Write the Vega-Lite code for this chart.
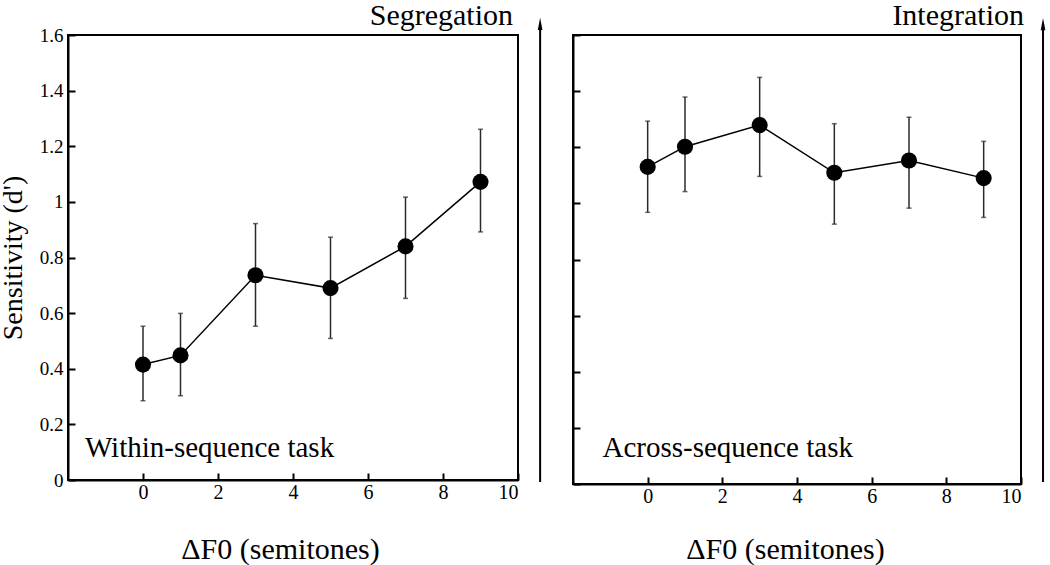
{
  "$schema": "https://vega.github.io/schema/vega-lite/v6.json",
  "background": "white",
  "autosize": {"type": "none"},
  "padding": {"left": 68, "top": 35, "right": 982, "bottom": 530},
  "config": {
    "font": "Liberation Serif",
    "view": {"stroke": "black", "strokeWidth": 2},
    "axis": {
      "grid": false,
      "domainColor": "black", "domainWidth": 2,
      "tickColor": "black", "tickWidth": 2, "tickSize": -7,
      "labelPadding": 12, "labelFont": "Liberation Serif", "labelFontSize": 19, "labelColor": "black",
      "titleFont": "Liberation Serif", "titleFontSize": 30, "titleFontWeight": "normal", "titleColor": "black"
    }
  },
  "datasets": {
    "within": [
      {"dF0": 0, "d": 0.415, "lo": 0.285, "hi": 0.553},
      {"dF0": 1, "d": 0.448, "lo": 0.303, "hi": 0.599},
      {"dF0": 3, "d": 0.736, "lo": 0.553, "hi": 0.922},
      {"dF0": 5, "d": 0.690, "lo": 0.509, "hi": 0.873},
      {"dF0": 7, "d": 0.840, "lo": 0.653, "hi": 1.017},
      {"dF0": 9, "d": 1.072, "lo": 0.892, "hi": 1.261}
    ],
    "across": [
      {"dF0": 0, "d": 1.130, "lo": 0.968, "hi": 1.293},
      {"dF0": 1, "d": 1.202, "lo": 1.042, "hi": 1.379},
      {"dF0": 3, "d": 1.279, "lo": 1.096, "hi": 1.449},
      {"dF0": 5, "d": 1.109, "lo": 0.926, "hi": 1.284},
      {"dF0": 7, "d": 1.153, "lo": 0.983, "hi": 1.307},
      {"dF0": 9, "d": 1.090, "lo": 0.950, "hi": 1.221}
    ]
  },
  "bounds": "flush",
  "spacing": 55,
  "hconcat": [
    {
      "width": 450, "height": 445,
      "data": {"name": "within"},
      "encoding": {
        "x": {"field": "dF0", "type": "quantitative",
          "scale": {"domain": [-2, 10], "nice": false, "zero": false},
          "axis": {"values": [0, 2, 4, 6, 8, 10], "labelFontSize": 20, "labelPadding": 9, "title": "ΔF0 (semitones)", "titlePadding": 32, "titleX": 212, "titleAlign": "center"}},
        "y": {"field": "d", "type": "quantitative",
          "scale": {"domain": [0, 1.6], "nice": false},
          "axis": {"values": [0, 0.2, 0.4, 0.6, 0.8, 1, 1.2, 1.4, 1.6], "format": "~g", "title": "Sensitivity (d')", "titleFontSize": 28, "titlePadding": 12}}
      },
      "layer": [
        {"mark": {"type": "errorbar", "ticks": true, "thickness": 1.5, "color": "#2a2a2a"},
         "encoding": {"y": {"field": "lo", "type": "quantitative"}, "y2": {"field": "hi"}}},
        {"mark": {"type": "line", "color": "black", "strokeWidth": 1.5}},
        {"mark": {"type": "point", "filled": true, "color": "black", "opacity": 1, "size": 260, "shape": "circle"}},
        {"transform": [{"filter": "datum.dF0 == 0"}],
         "mark": {"type": "text", "text": "Within-sequence task", "align": "left", "baseline": "middle", "fontSize": 29, "font": "Liberation Serif", "color": "black"},
         "encoding": {"x": {"datum": -1.55, "type": "quantitative"}, "y": {"datum": 0.115, "type": "quantitative"}}},
        {"transform": [{"filter": "datum.dF0 == 0"}],
         "mark": {"type": "text", "text": "Segregation", "align": "right", "baseline": "alphabetic", "dx": -5, "fontSize": 30, "font": "Liberation Serif", "color": "black"},
         "encoding": {"x": {"datum": 10, "type": "quantitative"}, "y": {"datum": 1.637, "type": "quantitative"}}},
        {"transform": [{"filter": "datum.dF0 == 0"}],
         "mark": {"type": "rule", "color": "black", "strokeWidth": 2},
         "encoding": {"x": {"datum": 10.59, "type": "quantitative"}, "y": {"datum": -0.007, "type": "quantitative"}, "y2": {"datum": 1.62}}},
        {"transform": [{"filter": "datum.dF0 == 0"}],
         "mark": {"type": "point", "filled": true, "color": "black", "opacity": 1, "size": 150, "shape": "M0,-1L0.38,1L-0.38,1Z"},
         "encoding": {"x": {"datum": 10.59, "type": "quantitative"}, "y": {"datum": 1.64, "type": "quantitative"}}}
      ]
    },
    {
      "width": 448, "height": 449,
      "data": {"name": "across"},
      "encoding": {
        "x": {"field": "dF0", "type": "quantitative",
          "scale": {"domain": [-2, 10], "nice": false, "zero": false},
          "axis": {"values": [0, 2, 4, 6, 8, 10], "labelFontSize": 20, "labelPadding": 9, "title": "ΔF0 (semitones)", "titlePadding": 28, "titleX": 212, "titleAlign": "center"}},
        "y": {"field": "d", "type": "quantitative",
          "scale": {"domain": [0, 1.6], "nice": false},
          "axis": {"values": [0, 0.2, 0.4, 0.6, 0.8, 1, 1.2, 1.4, 1.6], "labels": false, "title": null}}
      },
      "layer": [
        {"mark": {"type": "errorbar", "ticks": true, "thickness": 1.5, "color": "#2a2a2a"},
         "encoding": {"y": {"field": "lo", "type": "quantitative"}, "y2": {"field": "hi"}}},
        {"mark": {"type": "line", "color": "black", "strokeWidth": 1.5}},
        {"mark": {"type": "point", "filled": true, "color": "black", "opacity": 1, "size": 260, "shape": "circle"}},
        {"transform": [{"filter": "datum.dF0 == 0"}],
         "mark": {"type": "text", "text": "Across-sequence task", "align": "left", "baseline": "middle", "fontSize": 29, "font": "Liberation Serif", "color": "black"},
         "encoding": {"x": {"datum": -1.21, "type": "quantitative"}, "y": {"datum": 0.13, "type": "quantitative"}}},
        {"transform": [{"filter": "datum.dF0 == 0"}],
         "mark": {"type": "text", "text": "Integration", "align": "right", "baseline": "alphabetic", "dx": 3, "fontSize": 30, "font": "Liberation Serif", "color": "black"},
         "encoding": {"x": {"datum": 10, "type": "quantitative"}, "y": {"datum": 1.636, "type": "quantitative"}}},
        {"transform": [{"filter": "datum.dF0 == 0"}],
         "mark": {"type": "rule", "color": "black", "strokeWidth": 2},
         "encoding": {"x": {"datum": 10.59, "type": "quantitative"}, "y": {"datum": 0.007, "type": "quantitative"}, "y2": {"datum": 1.62}}},
        {"transform": [{"filter": "datum.dF0 == 0"}],
         "mark": {"type": "point", "filled": true, "color": "black", "opacity": 1, "size": 150, "shape": "M0,-1L0.38,1L-0.38,1Z"},
         "encoding": {"x": {"datum": 10.59, "type": "quantitative"}, "y": {"datum": 1.639, "type": "quantitative"}}}
      ]
    }
  ]
}
